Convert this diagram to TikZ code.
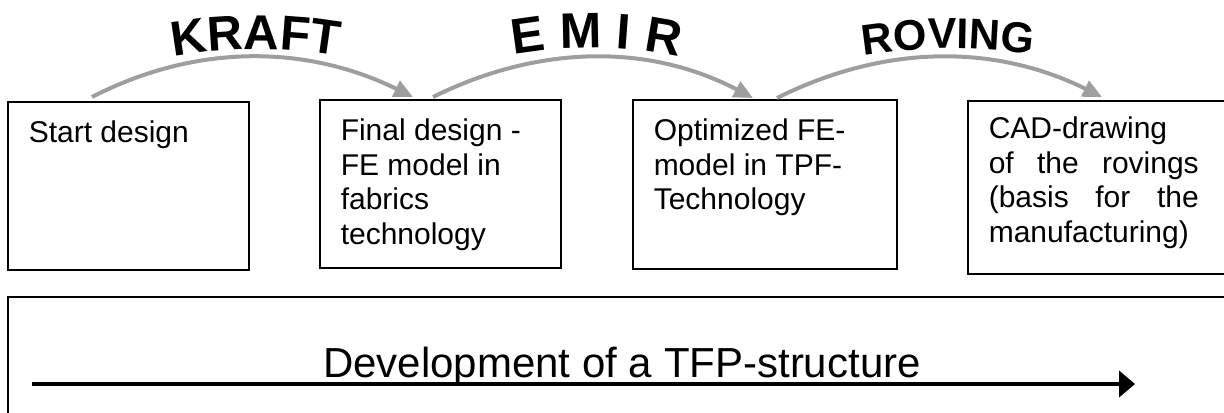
\documentclass[tikz,border=0pt]{standalone}
\usepackage{fontspec}
\setmainfont{Liberation Sans}
\usetikzlibrary{arrows.meta,decorations.text}
\definecolor{arcgray}{RGB}{158,158,158}
\newcommand\boxfont{\fontsize{30bp}{34.5bp}\selectfont}
\newcommand\devfont{\fontsize{42bp}{46bp}\selectfont}
\newcommand\lblfont{\fontsize{49bp}{52bp}\selectfont\bfseries}
\newcommand\lblfontb{\fontsize{50bp}{52bp}\selectfont\bfseries}
\newcommand\lblfontc{\fontsize{43bp}{46bp}\selectfont\bfseries}
\newcommand\boxtext[3]{\parbox[t][#1][t]{#2}{\raggedright\rule{0pt}{41bp}#3}}
\newcommand\boxtextb[3]{\parbox[t][#1][t]{#2}{\raggedright\rule{0pt}{38bp}#3}}
\begin{document}
\begin{tikzpicture}[x=1bp,y=1bp,
  stagebox/.style={draw, line width=1.5bp, anchor=north west, inner xsep=21bp, inner ysep=0bp, font=\boxfont},
  flowarc/.style={draw=arcgray, line width=4bp, -{Triangle[length=19bp,width=17bp,fill=arcgray]}},
  devarrow/.style={draw=black, line width=4bp, -{Triangle[length=16bp,width=26bp]}}
]
\useasboundingbox (0,0) rectangle (1224,412);
\clip (0,0) rectangle (1224,412);

% stage boxes
\node[stagebox] (box1) at (7,311) {\boxtext{168bp}{199bp}{Start design}};
\node[stagebox] (box2) at (319,313) {\boxtext{168bp}{199bp}{Final design -\\FE model in\\fabrics\\technology}};
\node[stagebox] (box3) at (632,313) {\boxtext{169bp}{222bp}{Optimized FE-\\model in TPF-\\Technology}};
\node[stagebox] (box4) at (967,312) {\boxtextb{173bp}{228bp}{CAD-drawing\\\makebox[210bp][s]{of the rovings}\\\makebox[210bp][s]{(basis for the}\\manufacturing)}};

% bottom box
\node[draw, line width=1.5bp, anchor=north west, minimum width=1240bp, minimum height=140bp, inner sep=0bp] (devbox) at (7,116) {};
\node[anchor=base, font=\devfont, inner sep=0bp] (devtext) at (622,35) {Development of a TFP-structure};
\coordinate (arrS) at (32,28);
\coordinate (arrE) at (1135,28);
\draw[devarrow] (arrS) -- (arrE);

% arcs between stages
\draw[flowarc] ([xshift=85bp,yshift=4bp]box1.north west) .. controls (195,368) and (305,368) .. ([xshift=94bp,yshift=2bp]box2.north west);
\draw[flowarc] ([xshift=114bp,yshift=2bp]box2.north west) .. controls (540,368) and (650,368) .. ([xshift=121bp,yshift=1bp]box3.north west);
\draw[flowarc] ([xshift=145bp,yshift=1bp]box3.north west) .. controls (885,368) and (995,368) .. ([xshift=135bp,yshift=3bp]box4.north west);

% arched labels
\path[decorate, decoration={text along path, text={|\lblfont|KRAFT}, text align=center}]
  (160,352) .. controls (220,366) and (290,366) .. (352,353);
\path[decorate, decoration={text along path, text={|\lblfontb|E M I R}, text align=center}]
  (500,355) .. controls (560,368) and (630,368) .. (692,352);
\path[decorate, decoration={text along path, text={|\lblfontc|ROVING}, text align=center}]
  (855,355) .. controls (920,366) and (980,366) .. (1042,356);
\end{tikzpicture}
\end{document}
